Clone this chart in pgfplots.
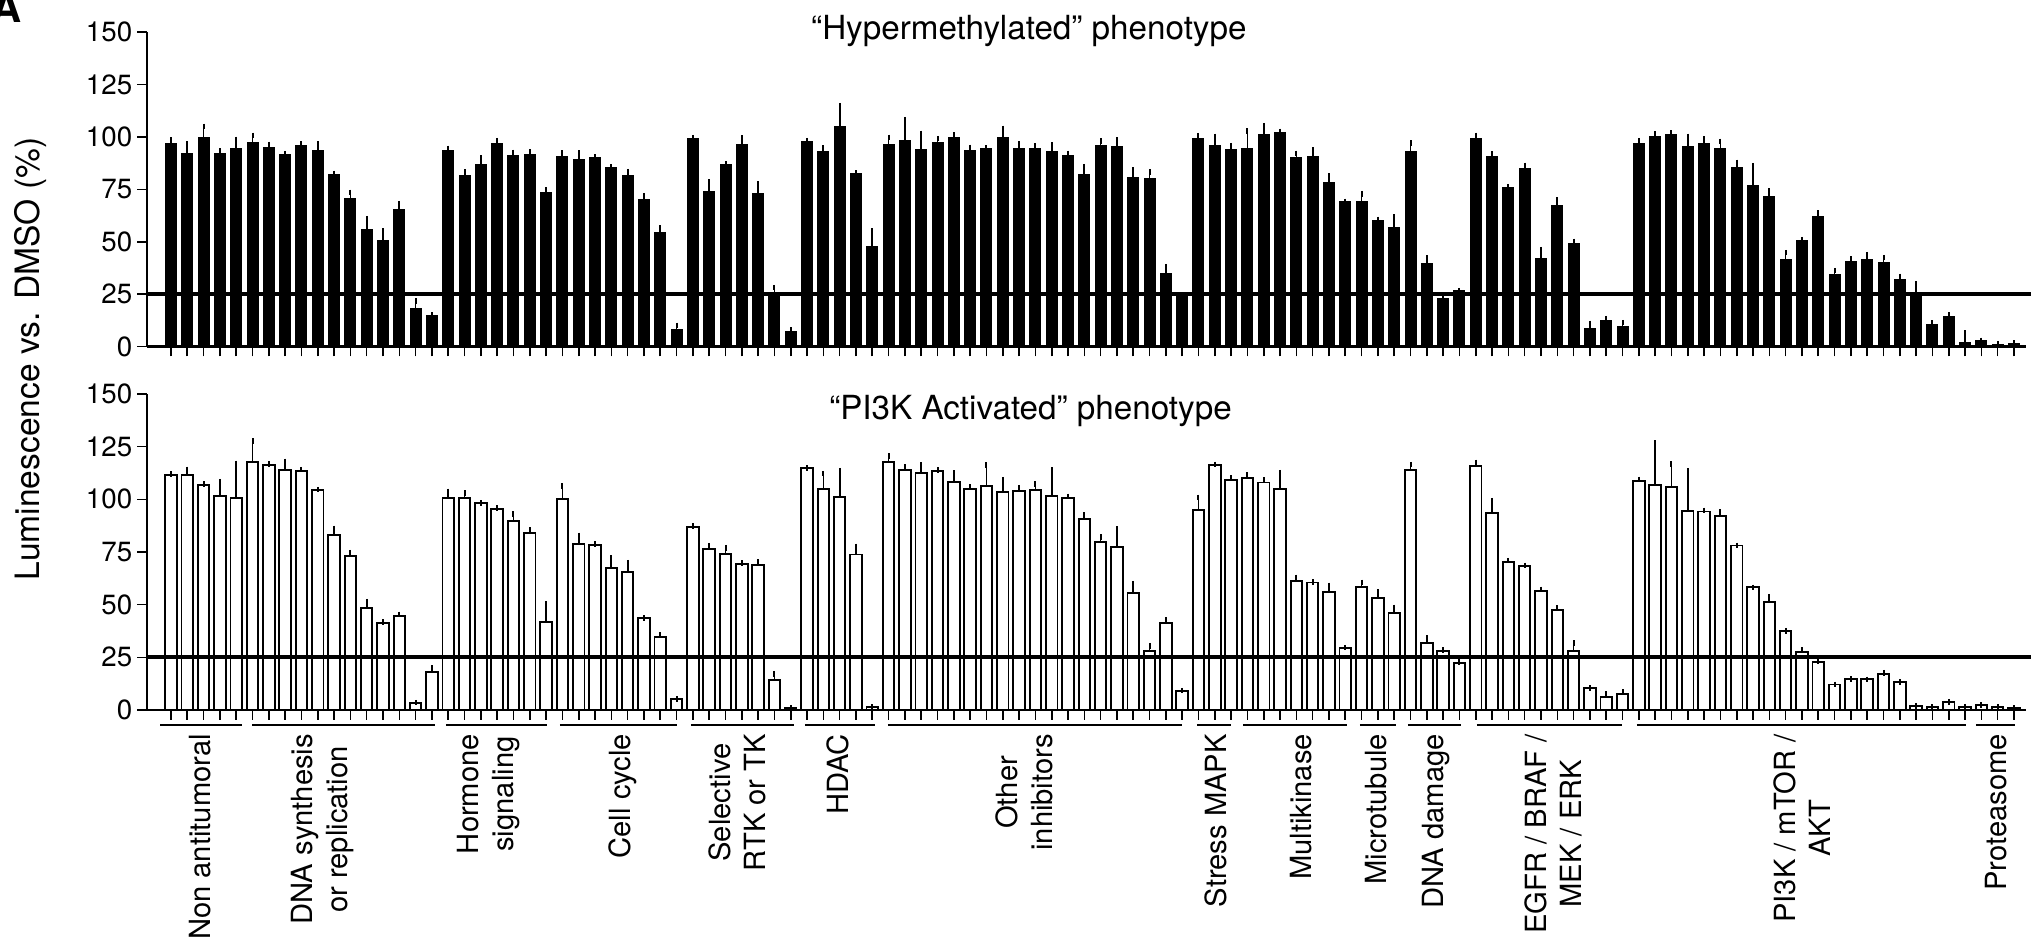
\documentclass[border=0pt]{standalone}
\usepackage{fontspec}
\setmainfont{TeX Gyre Heros}
\usepackage{pgfplots}
\usepackage{pgfplotstable}
\pgfplotsset{compat=1.18}

\newcommand\tickfont{\fontsize{7.9pt}{9pt}\selectfont}
\newcommand\titlefont{\fontsize{9.45pt}{11pt}\selectfont}
\newcommand\grpfont{\fontsize{8.3pt}{9.95pt}\selectfont}
\newcommand\ylabfont{\fontsize{9.55pt}{11pt}\selectfont}

% Luminescence relative to DMSO (%), mean and upper error, one row per compound
\pgfplotstableread{
n v e
1 97.0 1.5
2 92.3 4.4
3 99.6 5.4
4 92.3 1.1
5 94.3 4.6
6 97.5 3.3
7 94.8 1.7
8 91.6 0.4
9 95.9 0.8
10 93.4 3.3
11 82.1 0.5
12 70.8 2.7
13 56.0 5.0
14 50.4 4.8
15 65.5 2.7
16 18.3 3.5
17 14.8 0.3
18 93.4 1.1
19 81.4 1.9
20 86.8 3.2
21 97.0 1.3
22 91.1 1.5
23 91.5 1.4
24 73.6 1.2
25 90.7 1.7
26 89.5 2.9
27 90.0 0.5
28 85.4 0.3
29 81.4 2.1
30 70.0 2.0
31 54.2 2.4
32 8.3 1.7
33 99.4 0.3
34 74.0 4.4
35 86.7 0.3
36 96.5 3.0
37 73.2 4.4
38 25.7 2.4
39 7.0 0.8
40 97.8 0.4
41 93.2 1.6
42 105.0 10.0
43 82.5 0.4
44 47.5 7.7
45 96.5 3.3
46 98.4 9.9
47 94.1 7.6
48 97.3 1.9
49 99.8 1.2
50 93.7 1.3
51 94.6 0.2
52 99.8 4.3
53 94.6 2.1
54 94.6 1.1
55 93.0 3.2
56 91.3 0.9
57 82.2 3.7
58 95.9 2.2
59 95.4 3.2
60 80.6 3.7
61 80.2 3.1
62 34.9 3.2
63 23.8 0.3
64 99.2 1.4
65 95.9 4.4
66 94.1 1.8
67 94.4 8.5
68 101.3 4.1
69 102.2 0.5
70 90.3 1.9
71 90.6 3.1
72 78.3 3.0
73 69.0 0.3
74 69.4 3.5
75 60.3 0.3
76 57.0 4.7
77 93.2 3.9
78 39.7 2.5
79 22.7 1.3
80 26.5 0.2
81 99.4 1.4
82 90.8 1.0
83 76.0 0.3
84 85.1 1.3
85 42.2 4.0
86 67.5 2.3
87 49.4 0.8
88 8.7 2.3
89 12.2 1.1
90 9.4 2.0
91 97.0 1.3
92 100.3 1.0
93 101.3 0.5
94 95.6 4.7
95 97.0 2.0
96 94.6 3.3
97 85.6 2.3
98 77.0 9.3
99 71.7 2.4
100 41.7 3.1
101 50.5 0.5
102 62.2 1.6
103 34.6 1.6
104 40.8 1.0
105 41.7 2.1
106 40.3 2.1
107 32.2 1.3
108 25.4 4.4
109 10.3 1.0
110 14.1 0.8
111 1.7 4.8
112 2.7 0.2
113 0.8 0.6
114 1.3 0.4
}\hyper

\pgfplotstableread{
n v e
1 111.6 0.3
2 111.4 2.8
3 107.0 0.3
4 101.7 6.7
5 100.8 16.2
6 117.7 10.0
7 116.1 0.6
8 113.9 4.1
9 113.3 0.8
10 104.4 0.2
11 83.2 3.0
12 72.9 1.8
13 48.4 3.0
14 41.1 0.7
15 44.5 0.9
16 3.5 0.0
17 17.9 2.0
18 100.6 3.2
19 100.8 2.2
20 98.1 0.2
21 95.6 0.2
22 89.7 3.2
23 84.0 1.4
24 41.6 8.7
25 100.2 6.1
26 79.0 3.9
27 78.2 0.6
28 67.6 4.6
29 65.3 4.6
30 43.5 0.2
31 34.5 1.1
32 5.1 0.0
33 87.0 0.2
34 76.4 1.6
35 74.0 3.0
36 69.4 0.3
37 68.9 1.4
38 14.2 3.0
39 1.0 0.0
40 114.8 0.2
41 104.9 7.3
42 101.1 12.5
43 73.8 3.8
44 1.3 0.0
45 117.7 2.8
46 114.0 1.4
47 112.3 4.0
48 113.3 0.6
49 108.4 4.1
50 104.9 0.9
51 106.3 10.0
52 103.6 5.7
53 103.8 1.7
54 104.6 2.7
55 101.4 12.5
56 100.8 0.6
57 90.7 1.9
58 79.6 2.5
59 77.4 8.5
60 55.6 4.4
61 28.1 2.4
62 41.4 1.4
63 9.2 0.0
64 94.8 6.1
65 116.3 0.3
66 109.3 0.8
67 110.0 1.5
68 108.0 1.1
69 104.9 7.7
70 61.3 1.6
71 60.5 0.3
72 56.1 3.0
73 29.6 0.0
74 58.2 2.3
75 53.1 3.0
76 46.2 2.5
77 113.8 2.7
78 31.6 2.5
79 28.1 0.4
80 22.3 0.5
81 116.0 1.5
82 93.6 5.8
83 70.3 0.6
84 68.2 0.4
85 56.4 0.8
86 47.3 1.1
87 27.8 4.0
88 10.4 0.0
89 6.3 1.2
90 7.5 1.1
91 108.6 0.9
92 106.8 19.8
93 106.0 10.8
94 94.5 18.9
95 94.2 0.5
96 92.1 1.9
97 78.1 0.0
98 58.2 0.0
99 51.1 2.7
100 37.6 0.0
101 27.5 0.9
102 22.8 0.5
103 12.1 0.0
104 14.8 0.0
105 14.5 0.0
106 17.1 0.6
107 13.2 0.0
108 2.0 0.0
109 1.4 0.0
110 3.9 0.0
111 1.6 0.0
112 2.4 0.0
113 1.3 0.0
114 0.9 0.0
}\pithree

\pgfplotsset{
  panel/.style={
    scale only axis, width=187.92mm,
    xmin=-0.47, xmax=114.75, ymin=0, ymax=150,
    axis lines=left, axis line style={-, line width=0.22mm},
    xtick={1,...,114}, xticklabels={},
    ytick={0,25,...,150},
    tick align=outside, major tick length=1.0mm,
    tick style={line width=0.16mm, black},
    yticklabel style={font=\tickfont, inner sep=0.4mm},
    /pgf/number format/assume math mode=true,
    clip=false,
  },
  errs/.style={
    error bars/.cd, y dir=plus, y explicit,
    error bar style={line width=0.17mm, black},
    error mark options={line width=0.2mm, mark size=0.28mm, black},
  },
}
\tikzset{
  bracket/.style={line width=0.18mm},
  grp/.style={rotate=90, anchor=east, inner sep=0pt, align=center, font=\grpfont},
  cutoff/.style={line width=0.42mm},
}

\begin{document}
\begin{tikzpicture}
\useasboundingbox (0,0) rectangle (203.1mm,94.4mm);

% panel letter
\node[anchor=base east, inner sep=0pt, font=\fontsize{11.9pt}{13pt}\selectfont\bfseries] at (2.2mm,92.1mm) {A};

% upper panel
\begin{axis}[panel, at={(14.7mm,59.75mm)}, anchor=south west, height=31.42mm]
  \addplot[ybar, bar width=1.1mm, bar shift=0pt, fill=black, draw=black, line width=0.1mm, errs]
    table[x=n, y=v, y error=e] {\hyper};
  \draw[cutoff] (axis cs:-0.47,25) -- (axis cs:115.3,25);
  \node[font=\titlefont, anchor=base] at (axis cs:53.6,146.7) {“Hypermethylated” phenotype};
\end{axis}

% lower panel
\begin{axis}[panel, at={(14.7mm,23.4mm)}, anchor=south west, height=31.6mm]
  \addplot[ybar, bar width=1.15mm, bar shift=0pt, fill=white, draw=black, line width=0.19mm, errs]
    table[x=n, y=v, y error=e] {\pithree};
  \draw[cutoff] (axis cs:-0.47,25) -- (axis cs:115.3,25);
  \node[font=\titlefont, anchor=base] at (axis cs:53.7,138) {“PI3K Activated” phenotype};

  % compound classes
  \draw[bracket] (axis cs:0.33,-7.12) -- (axis cs:5.35,-7.12);
  \draw[bracket] (axis cs:5.97,-7.12) -- (axis cs:17.19,-7.12);
  \draw[bracket] (axis cs:17.86,-7.12) -- (axis cs:24.05,-7.12);
  \draw[bracket] (axis cs:24.85,-7.12) -- (axis cs:32.02,-7.12);
  \draw[bracket] (axis cs:32.88,-7.12) -- (axis cs:39.2,-7.12);
  \draw[bracket] (axis cs:39.87,-7.12) -- (axis cs:44.16,-7.12);
  \draw[bracket] (axis cs:44.96,-7.12) -- (axis cs:62.99,-7.12);
  \draw[bracket] (axis cs:63.91,-7.12) -- (axis cs:65.99,-7.12);
  \draw[bracket] (axis cs:66.73,-7.12) -- (axis cs:73.1,-7.12);
  \draw[bracket] (axis cs:73.9,-7.12) -- (axis cs:76.11,-7.12);
  \draw[bracket] (axis cs:76.84,-7.12) -- (axis cs:80.09,-7.12);
  \draw[bracket] (axis cs:81.07,-7.12) -- (axis cs:89.96,-7.12);
  \draw[bracket] (axis cs:90.88,-7.12) -- (axis cs:111.05,-7.12);
  \draw[bracket] (axis cs:111.67,-7.12) -- (axis cs:114.06,-7.12);

  \node[grp] at (axis cs:2.78,-11.1) {Non antitumoral};
  \node[grp] at (axis cs:10.32,-11.1) {DNA synthesis\\or replication};
  \node[grp] at (axis cs:20.50,-11.1) {Hormone\\signaling};
  \node[grp] at (axis cs:28.71,-11.1) {Cell cycle};
  \node[grp] at (axis cs:35.70,-11.1) {Selective\\RTK or TK};
  \node[grp] at (axis cs:41.89,-11.1) {HDAC};
  \node[grp] at (axis cs:53.30,-11.1) {Other\\inhibitors};
  \node[grp] at (axis cs:65.07,-11.1) {Stress MAPK};
  \node[grp] at (axis cs:70.28,-11.1) {Multikinase};
  \node[grp] at (axis cs:74.91,-11.1) {Microtubule};
  \node[grp] at (axis cs:78.56,-11.1) {DNA damage};
  \node[grp] at (axis cs:85.77,-11.1) {EGFR / BRAF /\\MEK / ERK};
  \node[grp] at (axis cs:101.0,-11.1) {PI3K / mTOR /\\AKT};
  \node[grp] at (axis cs:112.9,-11.1) {Proteasome};
\end{axis}

% shared y label
\node[rotate=90, anchor=base, inner sep=0pt, font=\ylabfont] at (3.9mm,58.5mm) {Luminescence vs. DMSO (\%)};
\end{tikzpicture}
\end{document}
